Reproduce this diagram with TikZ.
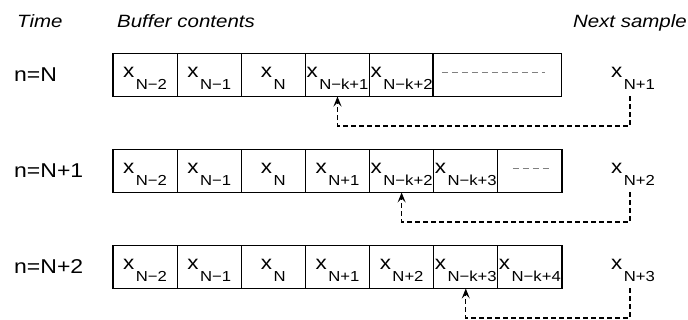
\documentclass[tikz,border=0pt]{standalone}
\usepackage{fontspec}
\setmainfont{Liberation Sans}[FakeStretch=1.15]
\usetikzlibrary{arrows.meta}

\newcommand{\smp}[1]{x\kern1.5pt\raisebox{-12pt}{\fontsize{14.5}{14.5}\selectfont #1}}

\tikzset{
 cell/.style={draw, line width=1.2pt, minimum width=64.14pt, minimum height=43pt,
   inner sep=0pt, outer sep=0pt, text height=18pt, text depth=12pt,
   font=\fontsize{19.5}{19.5}\selectfont},
 lab/.style={inner sep=0pt, font=\fontsize{17.8}{17.8}\selectfont\itshape},
 nlab/.style={inner sep=0pt, anchor=base west, font=\fontsize{20}{20}\selectfont},
 gapline/.style={gray, line width=1pt, dash pattern=on 6pt off 4pt},
 fb/.style={black, line width=1.1pt, dash pattern=on 5pt off 3pt,
   -{Stealth[length=10pt, width=8pt, inset=4pt]}}
}

\begin{document}
\begin{tikzpicture}[x=1pt, y=-1pt]
\useasboundingbox (0,0) rectangle (688,320);
\node[lab, anchor=base west] (time) at (17,28) {Time};
\node[lab, anchor=base west] (buf) at (117,28) {Buffer contents};
\node[lab, anchor=base east] (next) at (687,28) {Next sample};

% n = N
\node[nlab] (n1) at (14,82) {n=N};
\foreach \s [count=\i] in {N−2, N−1, N, N−k+1, N−k+2} {
 \node[cell] (a\i) at ({80.93+64.14*\i},75) {\smp{\s}};
}
\node[cell, minimum width=128.28pt] (a6) at (497.1,75) {};
\draw[gapline] ([xshift=9pt,yshift=2pt]a6.west) -- ([xshift=-16pt,yshift=2pt]a6.east);
\node[cell, draw=none] (s1) at (633,75) {\smp{N+1}};
\draw[fb] ([xshift=-3pt]s1.south) -- ++(0,29.5) -| (a4.south);

% n = N+1
\node[nlab] (n2) at (14,178) {n=N+1};
\foreach \s [count=\i] in {N−2, N−1, N, N+1, N−k+2, N−k+3} {
 \node[cell] (b\i) at ({80.93+64.14*\i},171) {\smp{\s}};
}
\node[cell] (b7) at ({80.93+64.14*7},171) {};
\draw[gapline] ([xshift=15pt,yshift=2pt]b7.west) -- ([xshift=-12pt,yshift=2pt]b7.east);
\node[cell, draw=none] (s2) at (633,171) {\smp{N+2}};
\draw[fb] ([xshift=-3pt]s2.south) -- ++(0,29.5) -| (b5.south);

% n = N+2
\node[nlab] (n3) at (14,274) {n=N+2};
\foreach \s [count=\i] in {N−2, N−1, N, N+1, N+2, N−k+3, N−k+4} {
 \node[cell] (c\i) at ({80.93+64.14*\i},267) {\smp{\s}};
}
\node[cell, draw=none] (s3) at (633,267) {\smp{N+3}};
\draw[fb] ([xshift=-3pt]s3.south) -- ++(0,29.5) -| (c6.south);
\end{tikzpicture}
\end{document}
